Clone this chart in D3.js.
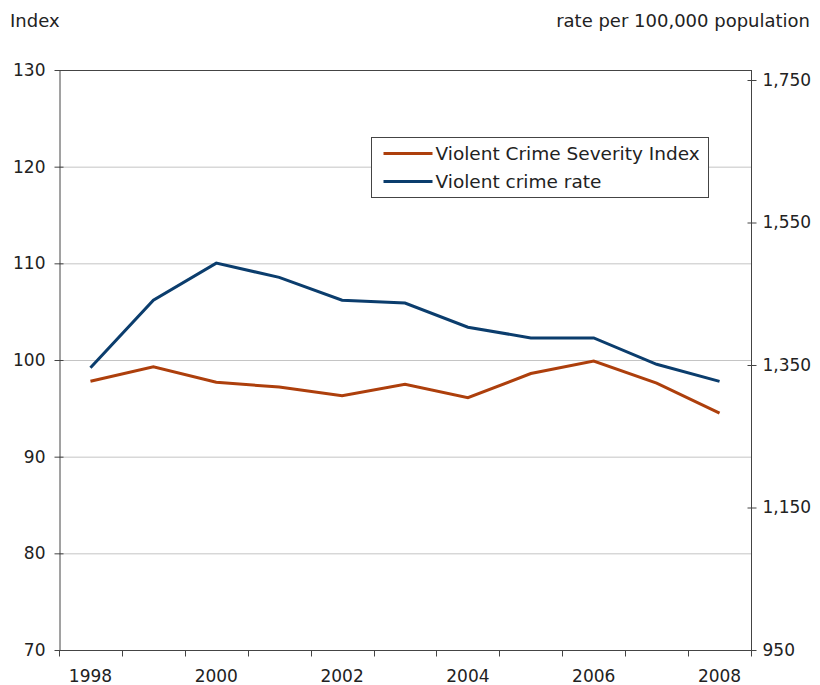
<!DOCTYPE html>
<html>
<head>
<meta charset="utf-8">
<script src="https://cdn.jsdelivr.net/npm/d3@7"></script>
<style>
  body { margin: 0; background: #fff; }
  text { font-family: "DejaVu Sans", Verdana, sans-serif; fill: #222; }
</style>
</head>
<body>
<div id="chart"></div>
<script>
// data
var years = ["1998", "1999", "2000", "2001", "2002", "2003", "2004", "2005", "2006", "2007", "2008"];
var severityIndex = [97.8, 99.3, 97.7, 97.2, 96.3, 97.5, 96.1, 98.6, 99.9, 97.6, 94.5];
var crimeRate = [1346, 1441, 1493, 1473, 1441, 1437, 1403, 1388, 1388, 1351, 1327];
var leftTicks = [70, 80, 90, 100, 110, 120, 130];
var rightTicks = [950, 1150, 1350, 1550, 1750];
var labelYears = ["1998", "2000", "2002", "2004", "2006", "2008"];

var width = 820, height = 685;
var plotL = 59, plotR = 751, plotT = 70, plotB = 650;

var svg = d3.select("#chart").append("svg")
    .attr("width", width)
    .attr("height", height);

var x = d3.scaleBand()
    .domain(years)
    .range([plotL, plotR]);

var yL = d3.scaleLinear()
    .domain([70, 130])
    .range([plotB, plotT]);

var yR = d3.scaleLinear()
    .domain([950, 1750])
    .range([plotB, 80]);

// gridlines
svg.append("g")
    .selectAll("line")
    .data(leftTicks.filter(function(d) { return d > 70 && d < 130; }))
    .join("line")
    .attr("x1", plotL).attr("x2", plotR)
    .attr("y1", function(d) { return yL(d) + 0.5; })
    .attr("y2", function(d) { return yL(d) + 0.5; })
    .attr("stroke", "#c4c4c4")
    .attr("stroke-width", 1);

// top frame line
svg.append("line")
    .attr("x1", plotL).attr("x2", plotR)
    .attr("y1", plotT + 0.5).attr("y2", plotT + 0.5)
    .attr("stroke", "#444");

// left axis
var gL = svg.append("g")
    .attr("transform", "translate(" + (plotL + 0.5) + ",0)")
    .call(d3.axisLeft(yL).tickValues(leftTicks).tickSize(5).tickPadding(9).tickSizeOuter(0));
gL.selectAll(".tick line").attr("x2", 4).attr("x1", -5);

// right axis
var gR = svg.append("g")
    .attr("transform", "translate(" + (plotR + 0.5) + ",0)")
    .call(d3.axisRight(yR).tickValues(rightTicks).tickSize(5).tickPadding(6).tickSizeOuter(0)
        .tickFormat(d3.format(",")));
gR.selectAll(".tick line").attr("x1", -4).attr("x2", 5);
gR.select(".domain").attr("d", "M0," + plotT + "V" + plotB);

// bottom axis: ticks between categories
var gB = svg.append("g")
    .attr("transform", "translate(0," + (plotB + 0.5) + ")");
gB.append("line")
    .attr("x1", plotL).attr("x2", plotR)
    .attr("stroke", "#444");
var bounds = years.map(function(d) { return x(d); }).concat([plotR]);
gB.selectAll(".tk")
    .data(bounds)
    .join("line")
    .attr("class", "tk")
    .attr("x1", function(d) { return Math.round(d) + 0.5; })
    .attr("x2", function(d) { return Math.round(d) + 0.5; })
    .attr("y1", 0).attr("y2", 6)
    .attr("stroke", "#444");
gB.selectAll(".lbl")
    .data(labelYears)
    .join("text")
    .attr("class", "lbl")
    .attr("x", function(d) { return x(d) + x.bandwidth() / 2; })
    .attr("y", 31)
    .attr("text-anchor", "middle")
    .style("font-size", "17px")
    .text(function(d) { return d; });

svg.selectAll(".domain, .tick line").attr("stroke", "#444");
svg.selectAll(".tick text").style("font-size", "17px").attr("fill", "#222");

// axis titles
svg.append("text")
    .attr("x", 10).attr("y", 27)
    .style("font-size", "18px")
    .text("Index");
svg.append("text")
    .attr("x", 810).attr("y", 27)
    .attr("text-anchor", "end")
    .style("font-size", "18px")
    .text("rate per 100,000 population");

// lines
var cx = function(i) { return x(years[i]) + x.bandwidth() / 2; };

svg.append("path")
    .datum(severityIndex)
    .attr("fill", "none")
    .attr("stroke", "#ad3f0c")
    .attr("stroke-width", 3)
    .attr("d", d3.line().x(function(d, i) { return cx(i); }).y(function(d) { return yL(d); }));

svg.append("path")
    .datum(crimeRate)
    .attr("fill", "none")
    .attr("stroke", "#0b3d6d")
    .attr("stroke-width", 3)
    .attr("d", d3.line().x(function(d, i) { return cx(i); }).y(function(d) { return yR(d); }));

// legend
var legend = svg.append("g").attr("transform", "translate(371.5,137.5)");
legend.append("rect")
    .attr("width", 337).attr("height", 60)
    .attr("fill", "#fff")
    .attr("stroke", "#444");
var items = [["Violent Crime Severity Index", "#ad3f0c"], ["Violent crime rate", "#0b3d6d"]];
items.forEach(function(it, i) {
    var yy = 16 + i * 28;
    legend.append("line")
        .attr("x1", 12).attr("x2", 61)
        .attr("y1", yy).attr("y2", yy)
        .attr("stroke", it[1]).attr("stroke-width", 3);
    legend.append("text")
        .attr("x", 64).attr("y", yy + 6)
        .style("font-size", "18.5px")
        .text(it[0]);
});
</script>
</body>
</html>
